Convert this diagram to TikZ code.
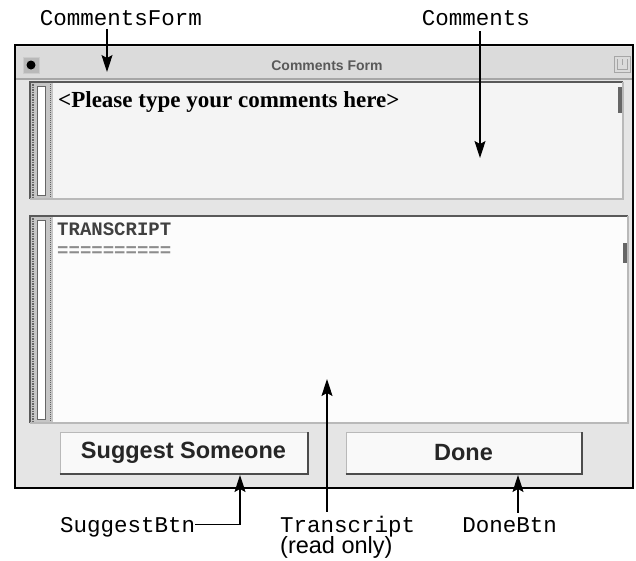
\documentclass[tikz,border=0pt]{standalone}
\usepackage{fontspec}
\setmainfont{Liberation Serif}
\setsansfont{Liberation Sans}
\setmonofont{Liberation Mono}
\usetikzlibrary{calc}
\usetikzlibrary{arrows.meta}
\usetikzlibrary{positioning}

\definecolor{winbg}{gray}{0.90}
\definecolor{barbg}{gray}{0.86}

\begin{document}
\begin{tikzpicture}[x=1pt,y=-1pt,
  annot/.style={font=\ttfamily\fontsize{22.5}{24}\selectfont, inner sep=0pt},
  arr/.style={line width=1.1pt, -{Stealth[length=17pt,width=11pt,inset=3pt]}},
  btn/.style={draw=gray!55, line width=1pt, fill=gray!5, minimum height=41pt, inner sep=0pt,
    font=\sffamily\bfseries\fontsize{23.5}{24}\selectfont, text=black!85}]
\useasboundingbox (0,0) rectangle (636,560);
% the window
\fill[winbg] (15,45) rectangle (633,488);
\fill[barbg] (16,47) rectangle (632,78);
\draw[gray!70, line width=1.5pt] (16,79)--(632,79);
\draw[black, line width=2.5pt] (15,45) rectangle (633,488);
% close box and zoom box
\filldraw[fill=gray!55, draw=gray!40] (23,57) rectangle (39,73);
\fill[black] (31,65) circle (4.5);
\draw[gray!70, line width=1pt] (614,56) rectangle (630,72);
\draw[gray!70, line width=1pt] (617,59) -- (617,69) -- (627,69) -- (627,59);
\draw[gray!70, line width=1pt] (622,59) -- (622,65);
\node[font=\sffamily\bfseries\fontsize{14}{14}\selectfont, text=black!65] (title) at (327,66) {Comments Form};
% the two panes
\foreach \yt/\yb/\xr/\col in {82/199/623/gray!9, 216/423/628/gray!2} {
  \fill[\col] (30,\yt) rectangle (\xr,\yb);
  \fill[gray!45] (31,\yt+1) rectangle (53,\yb-1);
  \draw[black!60, densely dotted, line width=1.5pt] (33,\yt+2) -- (33,\yb-2);
  \draw[black!60, densely dotted, line width=1pt] (50,\yt+2) -- (50,\yb-2);
  \filldraw[fill=white, draw=black!60] (37,\yt+4) rectangle (45,\yb-4);
  \draw[gray!70!black, line width=2pt] (30,\yb) -- (30,\yt) -- (\xr,\yt);
  \draw[gray!55, line width=1.5pt] (\xr,\yt) -- (\xr,\yb) -- (30,\yb);
}
% scroll thumbs
\fill[black!60] (618,87) rectangle (622,113);
\fill[black!60] (623,243) rectangle (627,263);
% texts in the panes
\node[anchor=base west, inner sep=0pt, font=\bfseries\fontsize{23}{23}\selectfont] (prompt) at (58,107) {<Please type your comments here>};
\node[anchor=base west, inner sep=0pt, font=\ttfamily\bfseries\fontsize{19}{19}\selectfont, text=black!75] (trhead) at (57,235) {TRANSCRIPT};
\node[anchor=base west, inner sep=0pt, font=\ttfamily\bfseries\fontsize{19}{19}\selectfont, text=black!45] (trline) at (57,256) {==========};
% the buttons
\node[btn, minimum width=247pt] (suggest) at (183.5,452.5) {Suggest Someone};
\node[btn, minimum width=235pt] (done) at (463.5,452.5) {Done};
\foreach \b in {suggest,done}
  \draw[black!70, line width=2pt] (\b.south west) -- (\b.south east) -- (\b.north east);

% labels and arrows
\node[annot, anchor=base] (lblform) at (121,25) {CommentsForm};
\node[annot, anchor=base] (lblcomm) at (476,25) {Comments};
\node[annot, anchor=base west] (lblsugg) at (60,532) {SuggestBtn};
\node[annot, anchor=base west] (lbltrans) at (280,532) {Transcript};
\node[anchor=base west, inner sep=0pt, font=\sffamily\fontsize{23.5}{24}\selectfont] (lblro) at (280,553) {(read only)};
\node[annot, anchor=base] (lbldone) at (509.5,532) {DoneBtn};
\coordinate (formtip) at (107,72);
\coordinate (commtip) at (480,158);
\coordinate (suggtip) at (240,475);
\coordinate (transtip) at (327,379);
\coordinate (donetip) at (518,475);
\draw[arr] ([yshift=-4pt]lblform.south -| formtip) -- (formtip);
\draw[arr] ([yshift=-6pt]lblcomm.south -| commtip) -- (commtip);
\draw[arr] ([yshift=2pt]lblsugg.east) -| (suggtip);
\draw[arr] ([yshift=4pt]lbltrans.north -| transtip) -- (transtip);
\draw[arr] ([yshift=4pt]lbldone.north -| donetip) -- (donetip);
\end{tikzpicture}
\end{document}
